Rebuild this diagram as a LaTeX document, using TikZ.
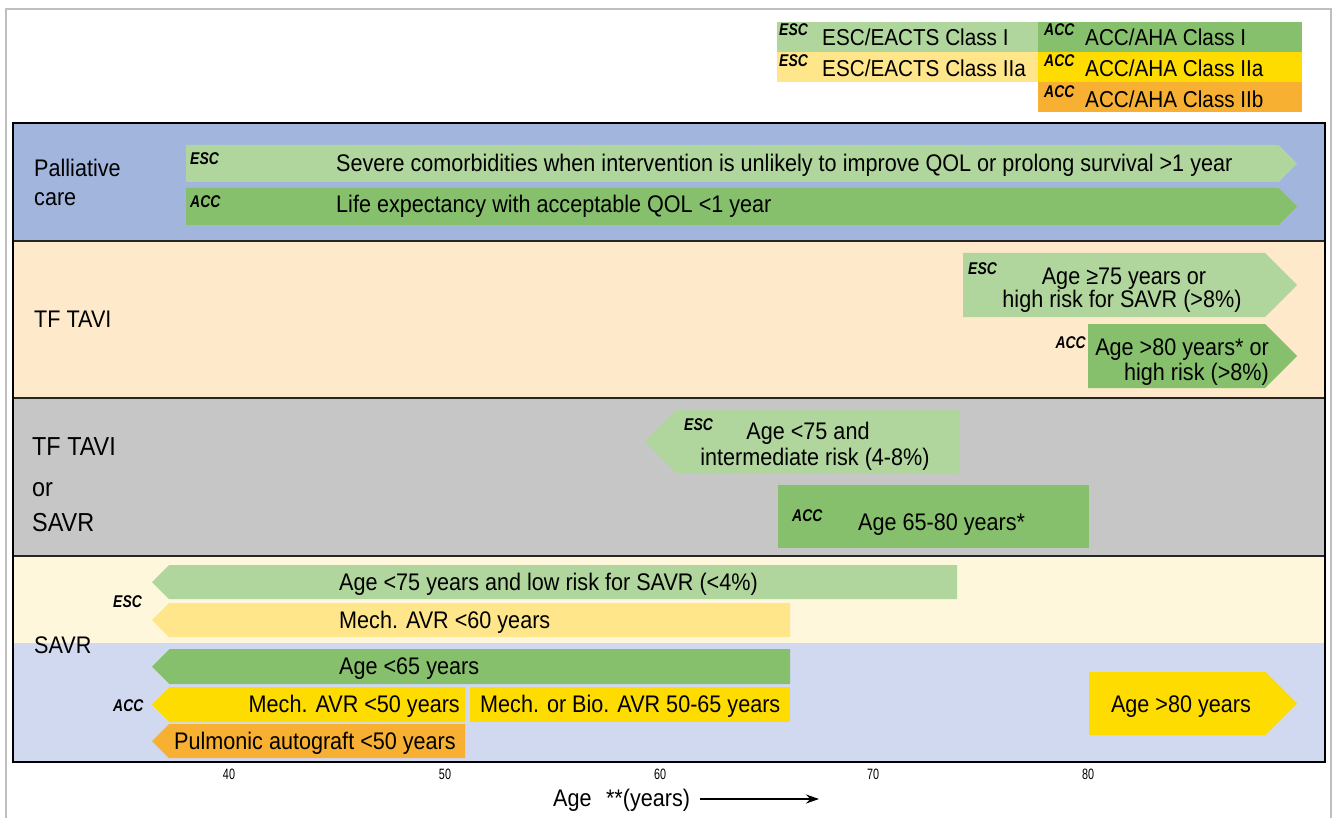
\documentclass[tikz,border=0pt]{standalone}
\usepackage{fontspec}
\usetikzlibrary{arrows.meta}
\setmainfont{Liberation Sans}[FakeStretch=0.9]
\newfontfamily\tagfam{Liberation Sans}[FakeStretch=0.82]
\newfontfamily\axfam{Liberation Sans}[FakeStretch=0.72]
\definecolor{palbg}{RGB}{161,181,221}
\definecolor{peach}{RGB}{254,233,202}
\definecolor{graybg}{RGB}{198,198,198}
\definecolor{savresc}{RGB}{255,247,219}
\definecolor{savracc}{RGB}{208,217,240}
\definecolor{escI}{RGB}{176,213,157}
\definecolor{accI}{RGB}{135,192,108}
\definecolor{escIIa}{RGB}{255,230,138}
\definecolor{accIIa}{RGB}{255,220,0}
\definecolor{accIIb}{RGB}{248,176,50}
\newcommand\rarr[5]{\fill[#1] (#2,#3) -- ({#4-(#5-#3)/2},#3) -- (#4,{(#3+#5)/2}) -- ({#4-(#5-#3)/2},#5) -- (#2,#5) -- cycle;}
\newcommand\larr[5]{\fill[#1] (#4,#3) -- ({#2+(#5-#3)/2},#3) -- (#2,{(#3+#5)/2}) -- ({#2+(#5-#3)/2},#5) -- (#4,#5) -- cycle;}
\tikzset{
  txt/.style={inner sep=0pt, anchor=base west, font=\fontsize{24}{25}\selectfont},
  txtc/.style={txt, anchor=base},
  txte/.style={txt, anchor=base east},
  leg/.style={txt, font=\fontsize{23}{24}\selectfont},
  big/.style={txt, font=\fontsize{26}{27}\selectfont},
  tag/.style={inner sep=0pt, anchor=base west, font=\tagfam\bfseries\itshape\fontsize{17}{17}\selectfont},
  tage/.style={tag, anchor=base east},
  ax/.style={inner sep=0pt, anchor=base, font=\axfam\fontsize{15}{15}\selectfont},
}
\begin{document}
\begin{tikzpicture}[x=1pt,y=-1pt]
\useasboundingbox (0,0) rectangle (1333,818);
% outer frame
\draw[black!25, line width=1.2pt] (6,818) -- (6,9) -- (1331,9) -- (1331,818);
% legend
\fill[escI] (777,22) rectangle (1038,52);
\fill[accI] (1038,22) rectangle (1302,52);
\fill[escIIa] (777,52) rectangle (1038,82);
\fill[accIIa] (1038,52) rectangle (1302,82);
\fill[accIIb] (1038,82) rectangle (1302,112);
\node[tag] (lt1) at (779,36) {ESC};
\node[leg] (l1) at (822,46) {ESC/EACTS Class I};
\node[tag] (lt2) at (1044,36) {ACC};
\node[leg] (l2) at (1085,46) {ACC/AHA Class I};
\node[tag] (lt3) at (779,67) {ESC};
\node[leg] (l3) at (822,77) {ESC/EACTS Class IIa};
\node[tag] (lt4) at (1044,67) {ACC};
\node[leg] (l4) at (1085,77) {ACC/AHA Class IIa};
\node[tag] (lt5) at (1044,98) {ACC};
\node[leg] (l5) at (1085,108) {ACC/AHA Class IIb};
% bands
\fill[palbg] (13,123) rectangle (1325,241);
\fill[peach] (13,241) rectangle (1325,398);
\fill[graybg] (13,398) rectangle (1325,556);
\fill[savresc] (13,556) rectangle (1325,643);
\fill[savracc] (13,643) rectangle (1325,762);
\draw[black!85, line width=1.5pt] (13,241) -- (1325,241);
\draw[black!85, line width=1.5pt] (13,398) -- (1325,398);
\draw[black!85, line width=1.5pt] (13,556) -- (1325,556);
% Palliative
\node[txt] (pal1) at (34,177) {Palliative};
\node[txt] (pal2) at (34,206) {care};
\rarr{escI}{186}{145}{1297}{182}
\rarr{accI}{186}{188}{1297}{225}
\node[tag] (pt1) at (190,165) {ESC};
\node[txt] (p1) at (336,172) {Severe comorbidities when intervention is unlikely to improve QOL or prolong survival >1 year};
\node[tag] (pt2) at (190,208) {ACC};
\node[txt] (p2) at (336,213) {Life expectancy with acceptable QOL <1 year};
% TF TAVI
\node[txt] (tav) at (34,327) {TF TAVI};
\rarr{escI}{963}{253}{1297}{317}
\node[tag] (tt1) at (968,275) {ESC};
\node[txtc] (ta1) at (1124,285) {Age ≥75 years or};
\node[txtc] (ta2) at (1122,308) {high risk for SAVR (>8\%)};
\rarr{accI}{1088}{324}{1297}{388}
\node[tage] (tt2) at (1086,348) {ACC};
\node[txte] (tb1) at (1269,355) {Age >80 years* or};
\node[txte] (tb2) at (1269,380) {high risk (>8\%)};
% TF TAVI or SAVR
\node[big] (or1) at (32,455) {TF TAVI};
\node[big] (or2) at (32,496) {or};
\node[big] (or3) at (32,531) {SAVR};
\larr{escI}{645}{410}{959}{473}
\node[tag] (ot1) at (684,430) {ESC};
\node[txtc] (oa1) at (808,439) {Age <75 and};
\node[txtc] (oa2) at (815,465) {intermediate risk (4-8\%)};
\fill[accI] (778,485) rectangle (1089,548);
\node[tag] (ot2) at (792,521) {ACC};
\node[txt] (ob1) at (858,530) {Age 65-80 years*};
% SAVR
\node[txt] (sav) at (34,653) {SAVR};
\node[tag] (st1) at (113,607) {ESC};
\node[tag] (st2) at (113,711) {ACC};
\larr{escI}{152}{565}{957}{599}
\node[txt] (s1) at (339,590) {Age <75 years and low risk for SAVR (<4\%)};
\larr{escIIa}{152}{603}{790}{637}
\node[txt] (s2) at (339,628) {Mech. AVR <60 years};
\larr{accI}{152}{649}{790}{684}
\node[txt] (s3) at (339,674) {Age <65 years};
\larr{accIIa}{152}{687}{465}{722}
\node[txte] (s4) at (460,712) {Mech. AVR <50 years};
\fill[accIIa] (470,687) rectangle (790,722);
\node[txt] (s5) at (480,712) {Mech. or Bio. AVR 50-65 years};
\larr{accIIb}{152}{724}{465}{758}
\node[txt] (s6) at (174,749) {Pulmonic autograft <50 years};
\rarr{accIIa}{1089}{672}{1297}{735}
\node[txtc] (s7) at (1181,712) {Age >80 years};
% main border
\draw[black, line width=2.5pt] (13,123) rectangle (1325,762);
% axis
\node[ax] (a40) at (229,779) {40};
\node[ax] (a50) at (445,779) {50};
\node[ax] (a60) at (660,779) {60};
\node[ax] (a70) at (873,779) {70};
\node[ax] (a80) at (1088,779) {80};
\node[txt] (axl) at (553,806) {Age\hspace{0.6em}**(years)};
\coordinate (ar1) at (700,799);
\coordinate (ar2) at (819,799);
\draw[line width=2.5pt, -{Stealth[length=13pt,width=9pt]}] (ar1) -- (ar2);
\end{tikzpicture}
\end{document}
